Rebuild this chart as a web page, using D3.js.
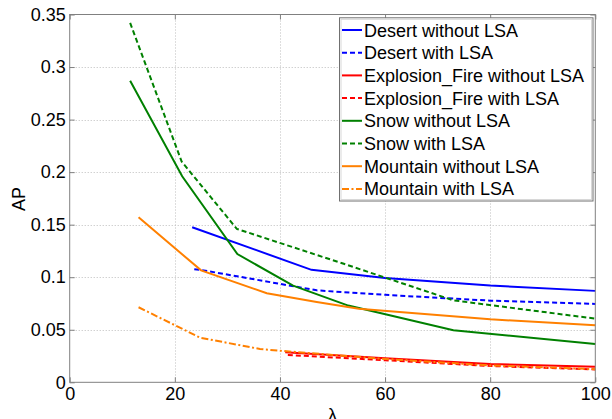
<!DOCTYPE html>
<html>
<head>
<meta charset="utf-8">
<script src="https://cdn.jsdelivr.net/npm/d3@7"></script>
<style>
  body { margin: 0; background: #fff; }
  svg text { font-family: "Liberation Sans", Arial, sans-serif; }
</style>
</head>
<body>
<div id="chart"></div>
<script>
  // Data
  var xTicks = [0, 20, 40, 60, 80, 100];
  var yTicks = [0, 0.05, 0.1, 0.15, 0.2, 0.25, 0.3, 0.35];
  var yTickLabels = ["0", "0.05", "0.1", "0.15", "0.2", "0.25", "0.3", "0.35"];

  var desertWithoutX = [23.3, 46, 60, 80, 100];
  var desertWithoutY = [0.1476, 0.107, 0.0993, 0.092, 0.087];
  var desertWithX = [23.7, 25.5, 47, 60, 80, 100];
  var desertWithY = [0.1076, 0.1065, 0.0875, 0.0832, 0.0777, 0.0746];
  var explosionWithoutX = [41, 60, 80, 100];
  var explosionWithoutY = [0.0285, 0.0228, 0.0175, 0.0148];
  var explosionWithX = [41.5, 60, 80, 100];
  var explosionWithY = [0.026, 0.021, 0.0155, 0.0122];
  var snowWithoutX = [11.5, 21.4, 31.9, 42.5, 53, 73, 100];
  var snowWithoutY = [0.287, 0.196, 0.122, 0.092, 0.073, 0.0495, 0.0365];
  var snowWithX = [11.5, 21.3, 31.8, 52, 73, 100];
  var snowWithY = [0.342, 0.210, 0.146, 0.113, 0.078, 0.0606];
  var mountainWithoutX = [13.1, 25, 37.5, 47, 55, 80, 100];
  var mountainWithoutY = [0.157, 0.1065, 0.0848, 0.0765, 0.070, 0.060, 0.0543];
  var mountainWithX = [13.1, 24.8, 36.2, 41.3, 60, 80, 100];
  var mountainWithY = [0.0714, 0.0425, 0.0317, 0.0295, 0.0222, 0.016, 0.0125];

  var seriesNames = ["Desert without LSA", "Desert with LSA", "Explosion_Fire without LSA",
                     "Explosion_Fire with LSA", "Snow without LSA", "Snow with LSA",
                     "Mountain without LSA", "Mountain with LSA"];

  // Styles (kept apart from the data)
  var blue = "#0000ff", red = "#ff0000", green = "#008000", orange = "#ff8000";
  var solid = null, dashed = "5,3", dashDot = "7,2.5,2,2.5";

  var series = [
    { name: seriesNames[0], xs: desertWithoutX, ys: desertWithoutY, color: blue, dash: solid },
    { name: seriesNames[1], xs: desertWithX, ys: desertWithY, color: blue, dash: dashed },
    { name: seriesNames[2], xs: explosionWithoutX, ys: explosionWithoutY, color: red, dash: solid },
    { name: seriesNames[3], xs: explosionWithX, ys: explosionWithY, color: red, dash: dashed },
    { name: seriesNames[4], xs: snowWithoutX, ys: snowWithoutY, color: green, dash: solid },
    { name: seriesNames[5], xs: snowWithX, ys: snowWithY, color: green, dash: dashed },
    { name: seriesNames[6], xs: mountainWithoutX, ys: mountainWithoutY, color: orange, dash: solid },
    { name: seriesNames[7], xs: mountainWithX, ys: mountainWithY, color: orange, dash: dashDot }
  ];

  var width = 612, height = 419;
  var plotLeft = 69.7, plotRight = 595.3, plotTop = 14.5, plotBottom = 382.3;

  var xScale = d3.scaleLinear().domain([0, 100]).range([plotLeft, plotRight]);
  var yScale = d3.scaleLinear().domain([0, 0.35]).range([plotBottom, plotTop]);

  var svg = d3.select("#chart").append("svg")
              .attr("width", width)
              .attr("height", height);

  // Dotted grid
  var grid = svg.append("g")
                .attr("stroke", "#bdbdbd")
                .attr("stroke-width", 1)
                .attr("stroke-dasharray", "1,2");
  grid.selectAll("line.gx")
      .data(xTicks.slice(1, -1))
      .enter().append("line")
      .attr("class", "gx")
      .attr("x1", function(d) { return Math.round(xScale(d)) + 0.5; })
      .attr("x2", function(d) { return Math.round(xScale(d)) + 0.5; })
      .attr("y1", plotTop).attr("y2", plotBottom);
  grid.selectAll("line.gy")
      .data(yTicks.slice(1, -1))
      .enter().append("line")
      .attr("class", "gy")
      .attr("y1", function(d) { return Math.round(yScale(d)) + 0.5; })
      .attr("y2", function(d) { return Math.round(yScale(d)) + 0.5; })
      .attr("x1", plotLeft).attr("x2", plotRight);

  // Lines
  var line = d3.line()
               .x(function(d) { return xScale(d[0]); })
               .y(function(d) { return yScale(d[1]); });

  series.forEach(function(s) {
    var pts = s.xs.map(function(x, i) { return [x, s.ys[i]]; });
    svg.append("path")
       .datum(pts)
       .attr("d", line)
       .attr("fill", "none")
       .attr("stroke", s.color)
       .attr("stroke-width", 2)
       .attr("stroke-dasharray", s.dash);
  });

  // Axes with inward ticks on all four sides
  var axisColor = "#808080";
  function styleAxis(g) {
    g.select(".domain").remove();
    g.selectAll(".tick line").attr("stroke", axisColor);
    g.selectAll(".tick text").attr("fill", "#000").style("font-size", "18px");
  }

  svg.append("g")
     .attr("transform", "translate(0," + plotBottom + ")")
     .call(d3.axisBottom(xScale).tickValues(xTicks).tickSizeInner(-5).tickSizeOuter(0).tickPadding(5))
     .call(styleAxis);

  svg.append("g")
     .attr("transform", "translate(0," + plotTop + ")")
     .call(d3.axisTop(xScale).tickValues(xTicks).tickSizeInner(-5).tickSizeOuter(0).tickFormat(""))
     .call(styleAxis);

  svg.append("g")
     .attr("transform", "translate(" + plotLeft + ",0)")
     .call(d3.axisLeft(yScale).tickValues(yTicks).tickSizeInner(-5).tickSizeOuter(0).tickPadding(4)
             .tickFormat(function(d, i) { return yTickLabels[i]; }))
     .call(styleAxis);

  svg.append("g")
     .attr("transform", "translate(" + plotRight + ",0)")
     .call(d3.axisRight(yScale).tickValues(yTicks).tickSizeInner(-5).tickSizeOuter(0).tickFormat(""))
     .call(styleAxis);

  svg.append("rect")
     .attr("x", plotLeft).attr("y", plotTop)
     .attr("width", plotRight - plotLeft).attr("height", plotBottom - plotTop)
     .attr("fill", "none")
     .attr("stroke", axisColor)
     .attr("stroke-width", 1);

  // Axis titles
  svg.append("text")
     .attr("x", (plotLeft + plotRight) / 2)
     .attr("y", 421)
     .attr("text-anchor", "middle")
     .style("font-size", "18px")
     .text("λ");

  svg.append("text")
     .attr("transform", "translate(25,199) rotate(-90)")
     .attr("text-anchor", "middle")
     .style("font-size", "18px")
     .text("AP");

  // Legend
  var legX = 339, legY = 17.3, legW = 253.5, legH = 183.2;
  var legend = svg.append("g");
  legend.append("rect")
        .attr("x", legX + 0.5).attr("y", legY + 0.5)
        .attr("width", legW).attr("height", legH)
        .attr("fill", "#fff")
        .attr("stroke", "#707070");
  legend.append("rect")
        .attr("x", legX + 2).attr("y", legY + 2)
        .attr("width", legW - 3).attr("height", legH - 3)
        .attr("fill", "none")
        .attr("stroke", "#d8d8d8");

  var rowStep = 22.7, firstRow = 30;
  series.forEach(function(s, i) {
    var cy = firstRow + i * rowStep;
    legend.append("line")
          .attr("x1", 342).attr("x2", 362)
          .attr("y1", cy).attr("y2", cy)
          .attr("stroke", s.color)
          .attr("stroke-width", 2)
          .attr("stroke-dasharray", s.dash);
    legend.append("text")
          .attr("x", 364)
          .attr("y", cy + 6.5)
          .style("font-size", "18px")
          .text(s.name);
  });
</script>
</body>
</html>
